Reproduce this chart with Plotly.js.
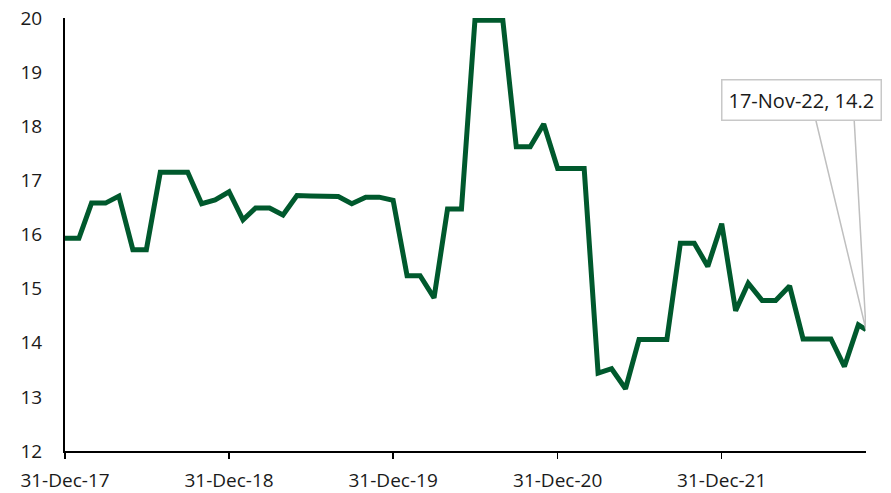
<!DOCTYPE html>
<html>
<head>
<meta charset="utf-8">
<script src="https://cdn.plot.ly/plotly-3.0.1.min.js"></script>
<style>html,body{margin:0;padding:0;background:#fff;}#chart{width:891px;height:493px;}</style>
</head>
<body>
<div id="chart"></div>
<script>
const dates = [
  '2017-12-31','2018-01-31','2018-02-28','2018-03-31','2018-04-30','2018-05-31','2018-06-30','2018-07-31','2018-08-31','2018-09-30','2018-10-31','2018-11-30',
  '2018-12-31','2019-01-31','2019-02-28','2019-03-31','2019-04-30','2019-05-31','2019-06-30','2019-07-31','2019-08-31','2019-09-30','2019-10-31','2019-11-30',
  '2019-12-31','2020-01-31','2020-02-29','2020-03-31','2020-04-30','2020-05-31','2020-06-30','2020-07-31','2020-08-31','2020-09-30','2020-10-31','2020-11-30',
  '2020-12-31','2021-01-31','2021-02-28','2021-03-31','2021-04-30','2021-05-31','2021-06-30','2021-07-31','2021-08-31','2021-09-30','2021-10-31','2021-11-30',
  '2021-12-31','2022-01-31','2022-02-28','2022-03-31','2022-04-30','2022-05-31','2022-06-30','2022-07-31','2022-08-31','2022-09-30','2022-10-31','2022-11-17'
];
const values = [
  15.93,15.93,16.58,16.58,16.71,15.72,15.72,17.15,17.15,17.15,16.57,16.64,
  16.79,16.27,16.49,16.49,16.36,16.72,16.71,16.70,16.70,16.57,16.69,16.69,
  16.63,15.24,15.24,14.83,16.47,16.47,19.96,19.96,19.96,17.62,17.62,18.04,
  17.22,17.22,17.22,13.44,13.52,13.15,14.06,14.06,14.06,15.84,15.84,15.41,
  16.20,14.59,15.10,14.78,14.78,15.05,14.07,14.07,14.07,13.56,14.33,14.24
];
const tickDates = ['2017-12-31','2018-12-31','2019-12-31','2020-12-31','2021-12-31'];
const tickLabels = ['31-Dec-17','31-Dec-18','31-Dec-19','31-Dec-20','31-Dec-21'];
const calloutLabel = '17-Nov-22, 14.2';

const lastX = dates[dates.length-1];
const lastY = values[values.length-1];
const FONT = 'Open Sans, Noto Sans, sans-serif';

const trace = {
  x: dates, y: values, type: 'scatter', mode: 'lines',
  line: {color: '#00592d', width: 5},
  hoverinfo: 'skip'
};

const layout = {
  width: 891, height: 493,
  margin: {l: 65, r: 25, t: 18, b: 41.5, pad: 0},
  paper_bgcolor: '#fff', plot_bgcolor: '#fff',
  showlegend: false,
  font: {family: FONT, size: 19, color: '#1a1a1a'},
  xaxis: {
    type: 'date',
    range: ['2017-12-31', lastX],
    tickmode: 'array', tickvals: tickDates, ticktext: tickLabels,
    showgrid: false, zeroline: false,
    showline: true, linecolor: '#000', linewidth: 2,
    ticks: 'outside', ticklen: 6, tickwidth: 1.5, tickcolor: '#000',
    ticklabelstandoff: 5,
    tickfont: {family: FONT, size: 19, color: '#1a1a1a'}
  },
  yaxis: {
    range: [12, 20], dtick: 1, tick0: 12,
    showgrid: false, zeroline: false,
    showline: true, linecolor: '#000', linewidth: 2,
    ticks: '', ticklabelstandoff: 17,
    tickfont: {family: FONT, size: 19, color: '#1a1a1a'}
  },
  shapes: [{
    type: 'path', xref: 'x', yref: 'y',
    xsizemode: 'pixel', ysizemode: 'pixel',
    xanchor: lastX, yanchor: lastY,
    path: 'M-51,213 L0,0 L-12,213',
    line: {color: '#bfbfbf', width: 1.5},
    fillcolor: 'rgba(0,0,0,0)'
  }],
  annotations: [{
    x: lastX, y: lastY, xref: 'x', yref: 'y',
    text: calloutLabel, showarrow: false,
    xshift: -65, yshift: 230,
    bgcolor: '#fff', bordercolor: '#c8c8c8', borderwidth: 1.5, borderpad: 6,
    font: {family: FONT, size: 20, color: '#1a1a1a'}
  }]
};

Plotly.newPlot('chart', [trace], layout, {staticPlot: true, displayModeBar: false});
</script>
</body>
</html>
